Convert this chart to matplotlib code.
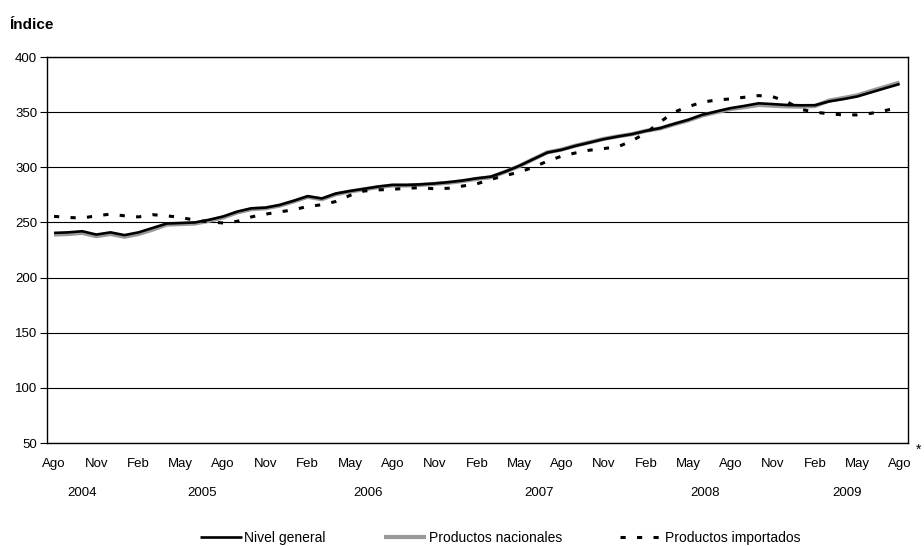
import numpy as np
import matplotlib
matplotlib.use('Agg')
import matplotlib.pyplot as plt
import matplotlib.transforms as mtransforms

plt.rcParams['font.family'] = ['Liberation Sans', 'DejaVu Sans']

# Monthly index, Ago 2004 - Ago 2009
nivel_general = [240.5, 241, 242, 239, 241, 238.5, 241, 245, 249, 249.5,
                 250, 252.4, 255.4, 259.8, 262.8, 263.4, 265.8, 269.6, 273.8, 271.7,
                 276.2, 278.5, 280.5, 282.5, 284, 284, 284.5, 285.3, 286.5, 288,
                 290, 291.5, 296, 301.2, 307.3, 313.3, 315.8, 319.4, 322.4, 325.5,
                 327.9, 330, 333, 335.5, 339.4, 343, 347.6, 350.6, 353.6, 355.7,
                 358, 357.3, 356.5, 356.2, 356.3, 359.7, 361.8, 364.2, 368, 371.8,
                 375.5]
productos_nacionales = [239, 239.5, 240.5, 237.5, 239.5, 237, 239.5, 243.5, 248, 248.5,
                        249, 251.5, 254.5, 259, 262, 262.8, 265.2, 269, 273.2, 271,
                        275.6, 278, 280, 282, 283.5, 283.5, 284, 285, 286, 287.5,
                        289.5, 291, 295.8, 301, 307.3, 313.5, 316, 319.6, 322.6, 325.7,
                        328, 330, 333, 335.2, 339, 342.5, 347, 350, 352.8, 354.5,
                        356.5, 355.8, 355.2, 355, 355.5, 360.5, 362.8, 365.2, 369.2, 373,
                        376.8]
productos_importados = [255.5, 254.5, 254, 256, 257.5, 256, 255, 257, 256, 254.5,
                        252, 250.5, 249.5, 251, 255, 257.5, 259.5, 261.5, 264.5, 266,
                        269, 274.5, 278.5, 279.5, 280, 281, 281.5, 280.5, 281, 283,
                        285, 289, 292.5, 295.5, 300, 305.5, 310, 313, 315.5, 317,
                        318.5, 324, 331, 341, 350, 355, 359, 361, 362, 363.5,
                        365, 364, 359.5, 352.5, 350, 348.5, 347.5, 347.5, 349, 351.5,
                        354.5]

month_labels = ['Ago', 'Nov', 'Feb', 'May'] * 5 + ['Ago']
years = ['2004', '2005', '2006', '2007', '2008', '2009']
year_pos = [2.0, 10.5, 22.3, 34.4, 46.2, 56.3]

x = np.arange(len(nivel_general))
fs = 9.5

fig = plt.figure(figsize=(9.24, 5.46), dpi=100)
ax = fig.add_axes([47 / 924, 1 - 443 / 546, (908 - 47) / 924, (443 - 57) / 546])

l2, = ax.plot(x, productos_nacionales, color='#9a9a9a', lw=3.0, zorder=3,
              solid_capstyle='butt')
l1, = ax.plot(x, nivel_general, color='black', lw=1.9, zorder=4,
              solid_capstyle='butt')
l3, = ax.plot(x, productos_importados, color='black', lw=2.2, zorder=5,
              linestyle=(0, (1.7, 3.7)), dash_capstyle='butt')

ax.set_xlim(-0.5, 60.6)
ax.set_ylim(50, 400)
ax.set_yticks(range(50, 401, 50))
ax.yaxis.grid(True, color='black', lw=0.8)
ax.set_axisbelow(True)
for s in ax.spines.values():
    s.set_color('black')
    s.set_linewidth(1.0)

ax.set_xticks(x[::3])
ax.set_xticklabels(month_labels)
ax.tick_params(axis='x', length=0, pad=11, labelsize=fs)
ax.tick_params(axis='y', length=5, width=0.8, labelsize=fs, pad=2)

# asterisk after the last month
fig.text(919 / 924, 1 - 450 / 546, '*', fontsize=10, ha='center', va='center')

trans = mtransforms.blended_transform_factory(ax.transData, fig.transFigure)
for yr, pos in zip(years, year_pos):
    ax.text(pos, 1 - 493 / 546, yr, transform=trans, ha='center', va='center', fontsize=fs)

fig.text(9 / 924, 1 - 25 / 546, 'Índice', fontsize=11, fontweight='bold', va='center')

fig.legend([l1, l2, l3], ['Nivel general', 'Productos nacionales', 'Productos importados'],
           loc='center', bbox_to_anchor=(500 / 924, 1 - 538 / 546), ncol=3, frameon=False,
           fontsize=10, handlelength=3.0, handletextpad=0.2, columnspacing=4.2)

fig.savefig('out.png', dpi=100)
